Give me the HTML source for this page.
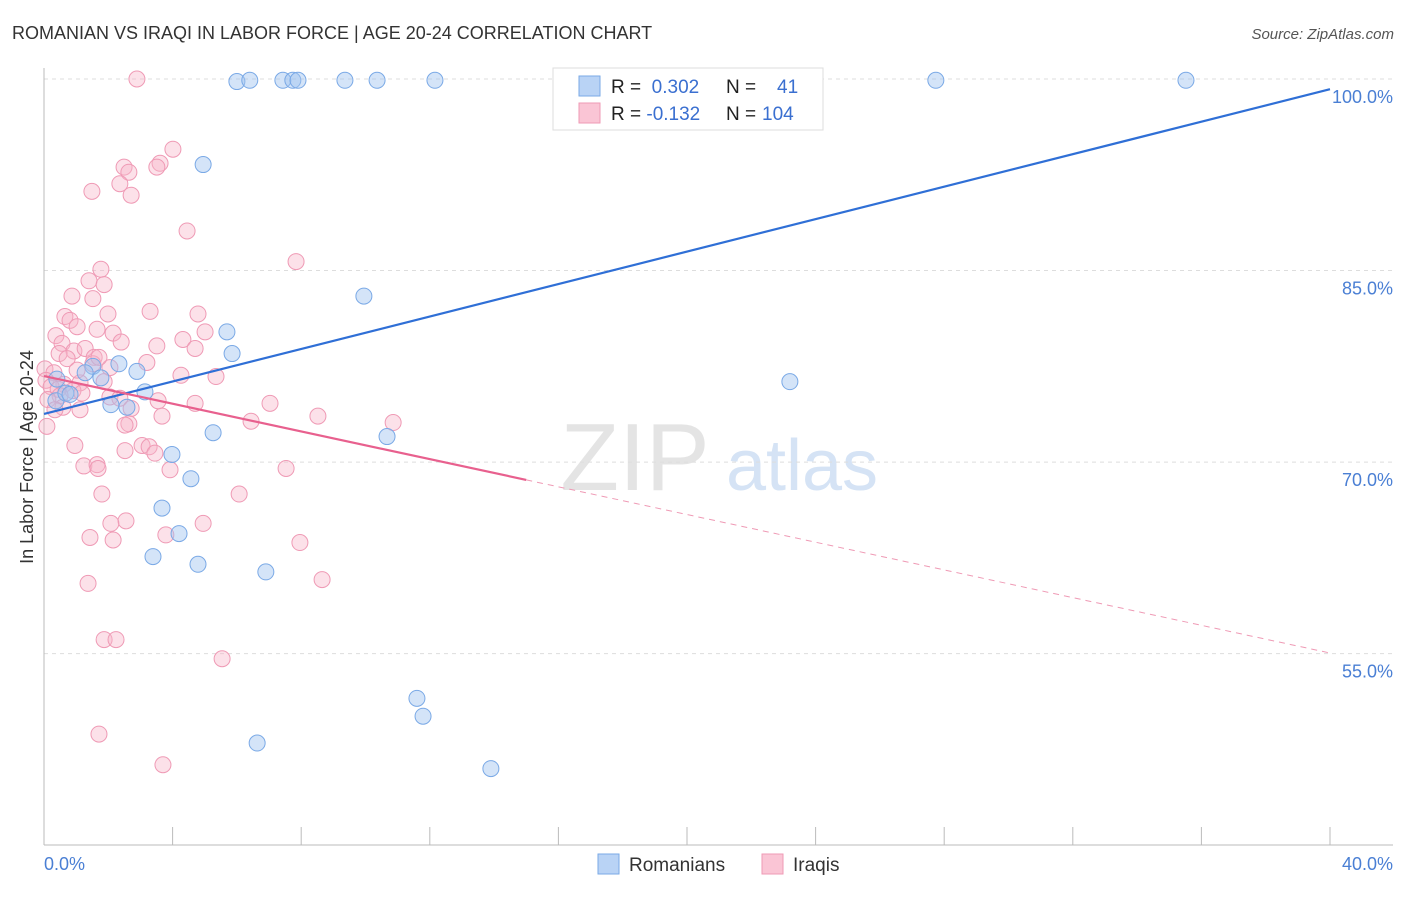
<!DOCTYPE html>
<html><head><meta charset="utf-8"><style>
body{margin:0;background:#fff;font-family:"Liberation Sans",sans-serif;}
svg text{font-family:"Liberation Sans",sans-serif;}
</style></head><body>
<svg id="c" width="1406" height="892" xmlns="http://www.w3.org/2000/svg">
<text x="12" y="39" font-size="18" fill="#333">ROMANIAN VS IRAQI IN LABOR FORCE | AGE 20-24 CORRELATION CHART</text>
<text x="1394" y="39" font-size="15" fill="#555" font-style="italic" text-anchor="end">Source: ZipAtlas.com</text>
<text x="0" y="0" font-size="18" fill="#333" text-anchor="middle" transform="translate(33,457) rotate(-90)">In Labor Force | Age 20-24</text>
<g>
<text x="635" y="490" font-size="96" fill="#e4e4e4" font-family="Liberation Serif,serif" text-anchor="middle">ZIP</text>
<text x="802" y="490" font-size="72" fill="#d5e3f5" text-anchor="middle">atlas</text></g>
<g id="grid"></g><g id="axes"></g><g id="pts"></g><g id="lines"></g>
<g>
<rect x="553" y="68" width="270" height="62" fill="#fff" stroke="#ddd"/>
<rect x="579" y="76" width="21" height="20" fill="#b9d3f5" stroke="#7aa9e6"/>
<rect x="579" y="103" width="21" height="20" fill="#fac5d5" stroke="#ef9ab5"/>
<text x="611" y="93" font-size="19" fill="#222">R = <tspan fill="#3a6fd0">&#160;0.302</tspan><tspan x="726">N = </tspan><tspan x="777" fill="#3a6fd0">41</tspan></text>
<text x="611" y="120" font-size="19" fill="#222">R = <tspan fill="#3a6fd0">-0.132</tspan><tspan x="726">N = </tspan><tspan x="762" fill="#3a6fd0">104</tspan></text>
</g>
<g>
<rect x="598" y="854" width="21" height="20" fill="#b9d3f5" stroke="#7aa9e6"/>
<text x="629" y="871" font-size="19" fill="#333">Romanians</text>
<rect x="762" y="854" width="21" height="20" fill="#fac5d5" stroke="#ef9ab5"/>
<text x="793" y="871" font-size="19" fill="#333">Iraqis</text>
</g>
</svg>
<script>
const yTicks=[100,85,70,55];
const yTickLabels=["100.0%","85.0%","70.0%","55.0%"];
const xTickLabels=["0.0%","40.0%"];
const blueX=[6.0,6.4,7.43,7.74,7.9,9.36,10.36,12.16,22.27,27.74,35.52,4.95,9.95,5.69,5.85,2.89,2.33,1.52,1.28,1.77,0.4,0.37,0.68,2.08,2.58,3.14,5.26,10.67,3.98,4.57,3.67,4.2,3.39,4.79,6.9,23.2,11.6,11.79,6.63,13.9,0.81];
const blueY=[99.8,99.9,99.9,99.9,99.9,99.9,99.9,99.9,99.9,99.9,99.9,93.3,83.0,80.2,78.5,77.1,77.7,77.5,77.0,76.6,76.5,74.8,75.4,74.5,74.3,75.5,72.3,72.0,70.6,68.7,66.4,64.4,62.6,62.0,61.4,76.3,51.5,50.1,48.0,46.0,75.3];
const pinkX=[2.89,4.01,3.61,3.51,2.49,2.64,2.36,1.49,2.71,4.45,7.84,1.77,1.40,1.87,0.87,1.52,3.30,4.79,1.99,0.65,0.81,1.03,1.65,2.15,5.01,0.37,4.32,2.40,3.51,4.70,0.56,0.93,1.28,0.47,1.56,1.52,2.05,0.03,0.31,4.26,5.35,0.06,1.87,1.12,0.62,0.22,0.44,0.90,1.18,7.03,4.70,3.55,2.05,2.36,0.50,0.12,0.59,1.12,2.71,3.67,8.52,6.44,10.86,2.64,2.52,3.05,3.27,3.45,2.52,0.09,0.96,1.24,1.65,1.68,7.53,6.07,1.80,2.55,2.08,4.95,1.43,2.15,3.79,7.96,8.65,1.37,1.87,2.24,5.54,1.71,3.70,3.92,3.20,0.72,1.03,1.71,0.34];
const pinkY=[100.0,94.5,93.4,93.1,93.1,92.7,91.8,91.2,90.9,88.1,85.7,85.1,84.2,83.9,83.0,82.8,81.8,81.6,81.6,81.4,81.1,80.6,80.4,80.1,80.2,79.9,79.6,79.4,79.1,78.9,79.3,78.7,78.9,78.5,78.2,77.7,77.4,77.3,77.0,76.8,76.7,76.4,76.3,76.2,76.1,75.9,75.7,75.6,75.4,74.6,74.6,74.8,75.1,75.0,75.2,74.9,74.3,74.1,74.2,73.6,73.6,73.2,73.1,73.0,72.9,71.3,71.2,70.7,70.9,72.8,71.3,69.7,69.8,69.5,69.5,67.5,67.5,65.4,65.2,65.2,64.1,63.9,64.3,63.7,60.8,60.5,56.1,56.1,54.6,48.7,46.3,69.4,77.8,78.1,77.2,78.2,74.1];
const blueLine=[73.77,99.2];
const pinkLine=[76.74,55.05];
const pinkSolidEnd=15.0;
const NS="http://www.w3.org/2000/svg";
const X=v=>44+v*32.15, Y=v=>79+(100-v)*12.77;
function mk(t,a,p){const e=document.createElementNS(NS,t);for(const k in a)e.setAttribute(k,a[k]);p.appendChild(e);return e;}
const grid=document.getElementById('grid'),axes=document.getElementById('axes'),pts=document.getElementById('pts'),lines=document.getElementById('lines');
yTicks.forEach((v,i)=>{
 const g=mk('line',{x1:44,x2:1393,y1:Y(v),y2:Y(v),stroke:'#ddd','stroke-dasharray':'4,4'},grid);
 
 
 const t=mk('text',{x:1393,y:Y(v)+24,'font-size':18,fill:'#4a7fd4','text-anchor':'end'},axes);t.textContent=yTickLabels[i];
 
 
});
mk('line',{x1:44,x2:44,y1:68,y2:845,stroke:'#bbb'},axes);
mk('line',{x1:44,x2:1393,y1:845,y2:845,stroke:'#bbb'},axes);
for(let i=0;i<=10;i++){mk('line',{x1:X(i*4),x2:X(i*4),y1:827,y2:845,stroke:'#bbb'},axes);}
[[0,'start',44],[1,'end',1393]].forEach(([i,a,x])=>{const t=mk('text',{x:x,y:870,'font-size':18,fill:'#4a7fd4','text-anchor':a},axes);t.textContent=xTickLabels[i];
 
 });
pinkX.forEach((x,i)=>{const c=mk('circle',{cx:X(x),cy:Y(pinkY[i]),r:8,fill:'rgba(248,180,200,0.4)',stroke:'#ef9ab5','stroke-width':1},pts);
 
 });
blueX.forEach((x,i)=>{const c=mk('circle',{cx:X(x),cy:Y(blueY[i]),r:8,fill:'rgba(160,196,240,0.45)',stroke:'#7aa9e6','stroke-width':1},pts);
 
 });
const bl=mk('line',{x1:X(0),y1:Y(blueLine[0]),x2:X(40),y2:Y(blueLine[1]),stroke:'#2f6fd6','stroke-width':2.2},lines);


const pAt=x=>pinkLine[0]+(pinkLine[1]-pinkLine[0])*x/40;
const pl=mk('line',{x1:X(0),y1:Y(pinkLine[0]),x2:X(pinkSolidEnd),y2:Y(pAt(pinkSolidEnd)),stroke:'#e8608e','stroke-width':2.2},lines);


const pd=mk('line',{x1:X(pinkSolidEnd),y1:Y(pAt(pinkSolidEnd)),x2:X(40),y2:Y(pinkLine[1]),stroke:'#ef9ab5','stroke-width':1,'stroke-dasharray':'6,5'},lines);


</script>
</body></html>
